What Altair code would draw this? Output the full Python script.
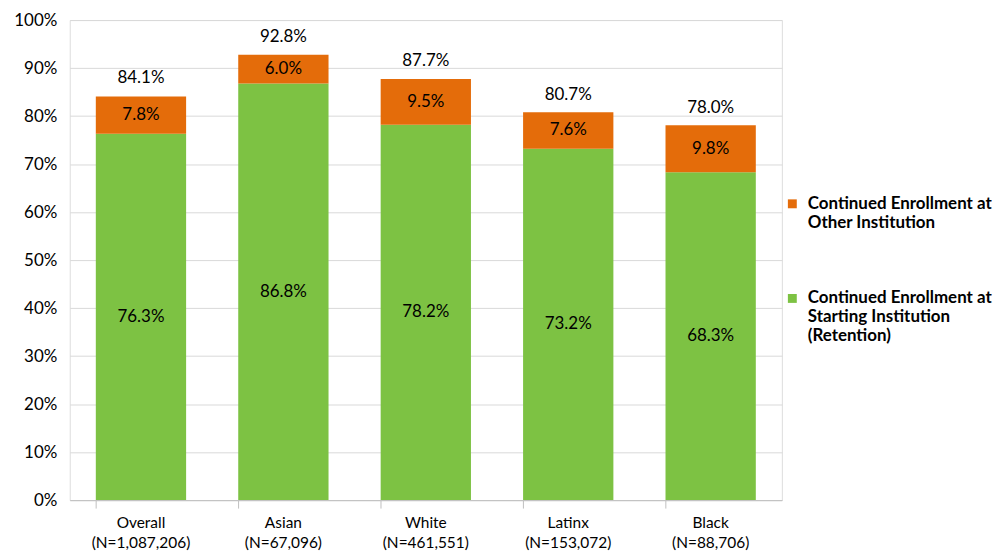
import altair as alt
import pandas as pd

groups = ["Overall", "Asian", "White", "Latinx", "Black"]
ns = ["(N=1,087,206)", "(N=67,096)", "(N=461,551)", "(N=153,072)", "(N=88,706)"]
starting = [76.3, 86.8, 78.2, 73.2, 68.3]
other = [7.8, 6.0, 9.5, 7.6, 9.8]
totals = [84.1, 92.8, 87.7, 80.7, 78.0]
series = ["Continued Enrollment at\nOther Institution",
          "Continued Enrollment at\nStarting Institution\n(Retention)"]

cats = [f"{g}\n{n}" for g, n in zip(groups, ns)]
rows = []
for c, s, o in zip(cats, starting, other):
    rows.append({"cat": c, "series": series[1], "val": s / 100, "order": 0,
                 "lo": 0.0, "hi": s / 100, "lab": f"{s:.1f}%"})
    rows.append({"cat": c, "series": series[0], "val": o / 100, "order": 1,
                 "lo": s / 100, "hi": (s + o) / 100, "lab": f"{o:.1f}%"})
df = pd.DataFrame(rows)
df["mid"] = (df["lo"] + df["hi"]) / 2
tot = pd.DataFrame({"cat": cats, "total": [t / 100 for t in totals],
                    "lab": [f"{t:.1f}%" for t in totals]})

FONT = "Lato"
xenc = alt.X("cat:N", sort=cats, title=None,
             scale=alt.Scale(paddingInner=0.366, paddingOuter=0.183),
             axis=alt.Axis(labelExpr="split(datum.label, '\\n')", labelAngle=0,
                           labelFontSize=15.5, labelColor="#000000", labelFont=FONT,
                           labelPadding=7, labelLineHeight=21,
                           domainColor="#BFBFBF", tickColor="#BFBFBF",
                           tickSize=8, bandPosition=0, grid=False))
yscale = alt.Scale(domain=[0, 1])

bars = alt.Chart(df).mark_bar().encode(
    x=xenc,
    y=alt.Y("lo:Q", scale=yscale, title=None,
            axis=alt.Axis(format=".0%", values=[i / 10 for i in range(11)],
                          labelFontSize=17, labelColor="#000000", labelFont=FONT,
                          ticks=False, domain=False, gridColor="#D9D9D9",
                          labelPadding=13)),
    y2="hi:Q",
    color=alt.Color("series:N", sort=series,
                    scale=alt.Scale(domain=series, range=["#E46C0A", "#7DC243"]),
                    legend=alt.Legend(title=None, orient="none", legendX=717, legendY=176,
                                      labelExpr="split(datum.label, '\\n')",
                                      labelFont=FONT, labelFontWeight="bold",
                                      labelFontSize=17, labelColor="#000000",
                                      symbolType="square", labelOffset=7,
                                      symbolSize=80, symbolStrokeWidth=0,
                                      rowPadding=58, labelLimit=300,
                                      symbolOffset=0)),
)

seg_text = alt.Chart(df).mark_text(fontSize=17, font=FONT, color="#000000").encode(
    x=alt.X("cat:N", sort=cats),
    y=alt.Y("mid:Q", scale=yscale),
    text="lab:N",
)

tot_text = alt.Chart(tot).mark_text(fontSize=17, font=FONT, color="#000000",
                                    baseline="bottom", dy=-9).encode(
    x=alt.X("cat:N", sort=cats),
    y=alt.Y("total:Q", scale=yscale),
    text="lab:N",
)

chart = alt.layer(bars, seg_text, tot_text).properties(
    width=715, height=482,
    padding={"left": 5, "top": 2, "right": 5, "bottom": 5},
).configure_view(stroke=None).configure(background="white")

chart.save("out.html", embed_options={"renderer": "svg", "actions": False})
